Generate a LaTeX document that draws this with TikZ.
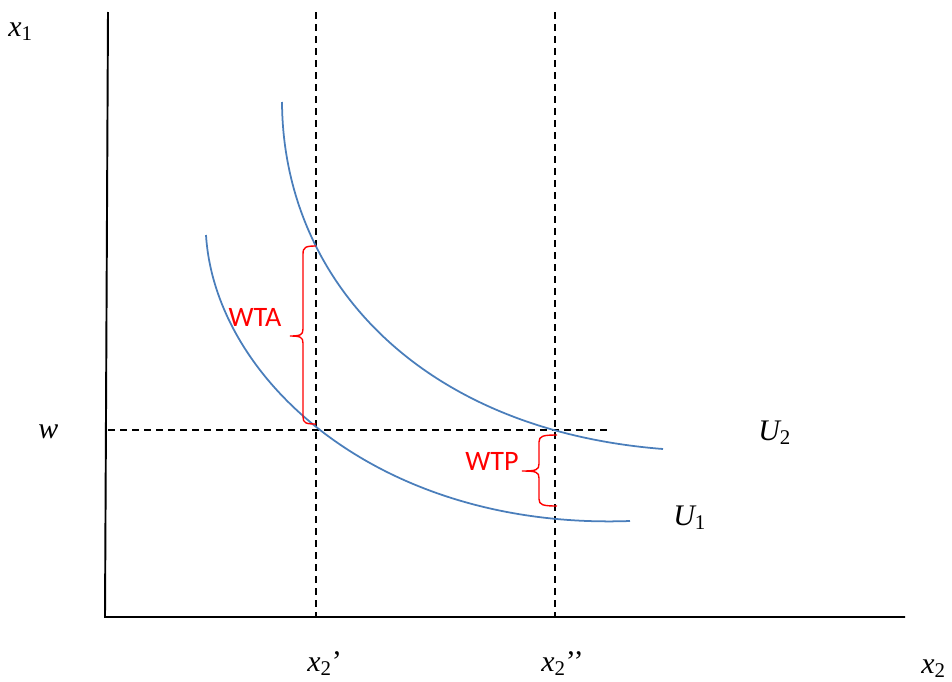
\documentclass[tikz,border=0pt]{standalone}
\usepackage{fontspec}
\setmainfont{Liberation Serif}
\newfontfamily\carl{Carlito}
\usepackage{tikz}
\definecolor{curveblue}{HTML}{4A7EBB}
\definecolor{gapred}{HTML}{FF0000}

\begin{document}
\begin{tikzpicture}[
  x=0.2mm, y=-0.2mm,
  axis/.style={line width=1.1pt, draw=black},
  guide/.style={draw=black, line width=1pt, dash pattern=on 1.4mm off 1mm},
  indiff/.style={draw=curveblue, line width=1pt},
  brace/.style={draw=gapred, line width=0.8pt},
  lbl/.style={font=\fontsize{17}{20}\selectfont, inner sep=0pt, anchor=base west},
  gap/.style={font=\carl\fontsize{16}{19}\selectfont, text=gapred, inner sep=0pt}
]
  \useasboundingbox (0,0) rectangle (952,682);

  % axes
  \coordinate (ytop) at (108,12);
  \coordinate (O)    at (105,617);
  \coordinate (xend) at (905,617);
  \draw[axis] (ytop) -- (O) -- (xend);

  % guide lines
  \coordinate (pa) at (316,12);  \coordinate (pa0) at (316,617);
  \coordinate (pb) at (555,12);  \coordinate (pb0) at (555,617);
  \coordinate (wl) at (108,430); \coordinate (wr)  at (610,430);
  \draw[guide] (pa) -- (pa0);
  \draw[guide] (pb) -- (pb0);
  \draw[guide] (wl) -- (wr);

  % indifference curves
  \draw[indiff] (282,102) .. controls (283,280) and (420,430) .. (663,449);
  \draw[indiff] (206,235) .. controls (215,380) and (380,530) .. (630,521);

  % braces
  \draw[brace] (316,246) .. controls (306,246) and (303,247) .. (303,254) -- (303,329)
    .. controls (303,335) and (300,336) .. (290,336) .. controls (300,336) and (303,337) .. (303,343)
    -- (303,417) .. controls (303,423) and (306,424) .. (316,424);
  \draw[brace] (557,435) .. controls (543,435) and (539,436) .. (539,442) -- (539,464)
    .. controls (539,470) and (536,471) .. (522,471) .. controls (536,471) and (539,472) .. (539,478)
    -- (539,499) .. controls (539,505) and (543,506) .. (557,506);

  \node[gap] (wta) at (255,317) {WTA};
  \node[gap] (wtp) at (492,461) {WTP};

  % axis and curve labels
  \node[lbl] (x1)  at (8,36)    {\itshape x\upshape\textsubscript{1}};
  \node[lbl] (w)   at (38,438)  {\itshape w};
  \node[lbl] (u2)  at (758,440) {\itshape U\upshape\textsubscript{2}};
  \node[lbl] (u1)  at (673,525) {\itshape U\upshape\textsubscript{1}};
  \node[lbl] (xa)  at (307,671) {\itshape x\upshape\textsubscript{2}\textquoteright};
  \node[lbl] (xb)  at (541,671) {\itshape x\upshape\textsubscript{2}\textquoteright\textquoteright};
  \node[lbl] (x2)  at (921,673) {\itshape x\upshape\textsubscript{2}};
\end{tikzpicture}
\end{document}
